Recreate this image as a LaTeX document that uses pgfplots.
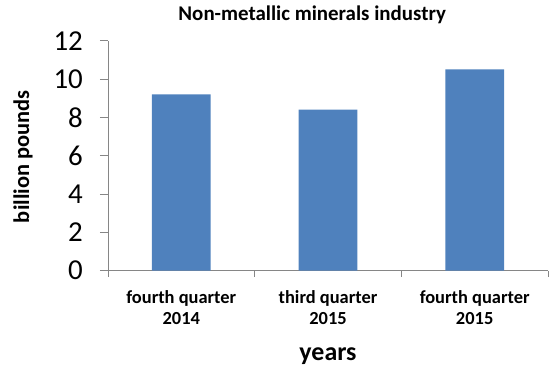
\documentclass[border=0pt]{standalone}
\usepackage{fontspec}
\setmainfont{Carlito}
\usepackage{pgfplots}
\pgfplotsset{compat=1.18}
\definecolor{barblue}{HTML}{4F81BD}
\definecolor{axisgray}{HTML}{868686}
\begin{document}
\begin{tikzpicture}
\useasboundingbox (-108bp,-100.3bp) rectangle (441bp,270.7bp);
\begin{axis}[
  scale only axis,
  width=440bp, height=230bp,
  xmin=-0.5, xmax=2.5,
  ymin=0, ymax=12,
  ytick={0,2,...,12},
  xtick={0,1,2},
  xticklabels={{fourth quarter\\2014},{third quarter\\2015},{fourth quarter\\2015}},
  minor xtick={-0.5,0.5,1.5,2.5},
  separate axis lines,
  axis x line=bottom, axis y line=left,
  axis line style={-, draw=axisgray, line width=0.8bp},
  tick align=outside,
  major tick length=8bp,
  minor tick length=6bp,
  major x tick style={draw=none},
  minor x tick style={draw=axisgray, line width=0.8bp},
  major y tick style={draw=axisgray, line width=0.8bp},
  /pgf/number format/assume math mode=true,
  yticklabel style={font=\fontsize{29}{29}\selectfont, inner sep=0pt, anchor=east, xshift=-17bp},
  xticklabel style={font=\fontsize{18.5}{21}\selectfont\bfseries, align=center, inner sep=0pt, anchor=north, yshift=-12bp},
  title={Non-metallic minerals industry},
  title style={font=\fontsize{21}{23}\selectfont\bfseries, at={(axis description cs:0.464,1)}, anchor=center, yshift=20bp},
  ylabel={billion pounds},
  ylabel style={font=\fontsize{22.5}{25}\selectfont\bfseries, at={(axis description cs:-0.193,0.495)}, anchor=center},
  xlabel={years},
  xlabel style={font=\fontsize{26}{28}\selectfont\bfseries, at={(axis description cs:0.5,-0.373)}, anchor=center},
  bar width=0.4,
]
\addplot[ybar, fill=barblue, draw=none] coordinates {(0,9.2) (1,8.4) (2,10.5)};
\end{axis}
\end{tikzpicture}
\end{document}
